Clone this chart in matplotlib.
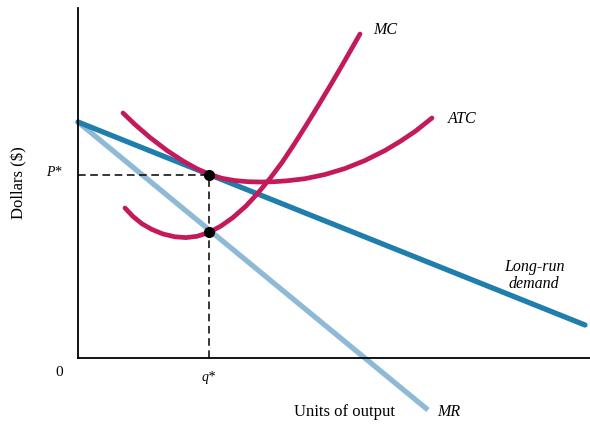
import matplotlib.pyplot as plt
import numpy as np

# data in chart units (1 unit = 10 px of the original drawing)
demand_x = [0, 50.7]
demand_y = [23.6, 3.3]

mr_x = [0, 35.0]
mr_y = [23.6, -5.2]

atc_x = [4.5, 5.7, 7.2, 8.9, 10.5, 11.9, 13.2, 14.4, 15.7, 17.0, 18.3, 19.6, 20.9, 22.7, 24.7, 26.7, 28.7, 30.7, 32.2, 33.7, 35.4]
atc_y = [24.5, 23.35, 22.05, 20.75, 19.7, 18.92, 18.35, 17.97, 17.74, 17.63, 17.6, 17.63, 17.72, 17.93, 18.35, 18.95, 19.75, 20.75, 21.65, 22.65, 24.0]

mc_x = [4.7, 5.5, 6.4, 7.4, 8.5, 9.7, 10.8, 11.9, 13.1, 14.3, 15.5, 16.8, 18.0, 19.2, 20.4, 21.6, 22.8, 24.0, 25.2, 26.4, 27.4, 28.2]
mc_y = [15.0, 14.15, 13.42, 12.85, 12.4, 12.12, 12.04, 12.17, 12.55, 13.2, 14.05, 15.2, 16.5, 17.95, 19.55, 21.35, 23.25, 25.2, 27.2, 29.25, 31.0, 32.4]

q_star = 13.1
p_star = 18.3
mc_at_q = 12.6

red = '#c4195a'
blue = '#1f7eac'
light_blue = '#8fbad6'

fig = plt.figure(figsize=(5.9, 4.32), dpi=100)
ax = fig.add_axes([78 / 590, 74 / 432, 512 / 590, 350 / 432])
ax.set_xlim(0, 51.2)
ax.set_ylim(0, 35.0)

ax.plot(mr_x, mr_y, color=light_blue, lw=3.8, solid_capstyle='butt', clip_on=False, zorder=2)
ax.plot(demand_x, demand_y, color=blue, lw=3.8, solid_capstyle='round', clip_on=False, zorder=3)
ax.plot(atc_x, atc_y, color=red, lw=3.4, solid_capstyle='round', solid_joinstyle='round', zorder=4)
ax.plot(mc_x, mc_y, color=red, lw=3.4, solid_capstyle='round', solid_joinstyle='round', zorder=4)

# dashed guides
ax.plot([0, q_star], [p_star, p_star], color='black', lw=1.1, ls=(0, (5, 3)), zorder=5)
ax.plot([q_star, q_star], [0, p_star], color='black', lw=1.1, ls=(0, (5, 3)), zorder=5)
ax.plot([q_star, q_star], [p_star, mc_at_q], 'o', color='black', ms=7, zorder=6)

for s in ['top', 'right']:
    ax.spines[s].set_visible(False)
for s in ['left', 'bottom']:
    ax.spines[s].set_linewidth(1.3)
    ax.spines[s].set_zorder(6)
ax.set_xticks([])
ax.set_yticks([])
ax.patch.set_alpha(0)

serif = 'Liberation Serif'
fs = 11.5
ax.text(29.5, 32.8, 'MC', family=serif, style='italic', fontsize=fs, va='center', ha='left')
ax.text(37.0, 23.9, 'ATC', family=serif, style='italic', fontsize=fs, va='center', ha='left')
ax.text(45.6, 8.25, 'Long-run\ndemand', family=serif, style='italic', fontsize=fs, va='center', ha='center', linespacing=1.15)
ax.text(35.9, -5.4, 'MR', family=serif, style='italic', fontsize=fs, va='center', ha='left')
ax.text(26.6, -5.4, 'Units of output', family=serif, fontsize=12, va='center', ha='center')
ax.text(-1.6, 18.5, 'P*', family=serif, style='italic', fontsize=10, va='center', ha='right')
ax.text(q_star, -2.0, 'q*', family=serif, style='italic', fontsize=10, va='center', ha='center')
ax.text(-1.9, -1.5, '0', family=serif, fontsize=11, va='center', ha='center')
fig.text(19 / 590, 1 - 183 / 432, 'Dollars ($)', family=serif, fontsize=12, rotation=90, va='center', ha='center')

fig.savefig('out.png', dpi=100)
